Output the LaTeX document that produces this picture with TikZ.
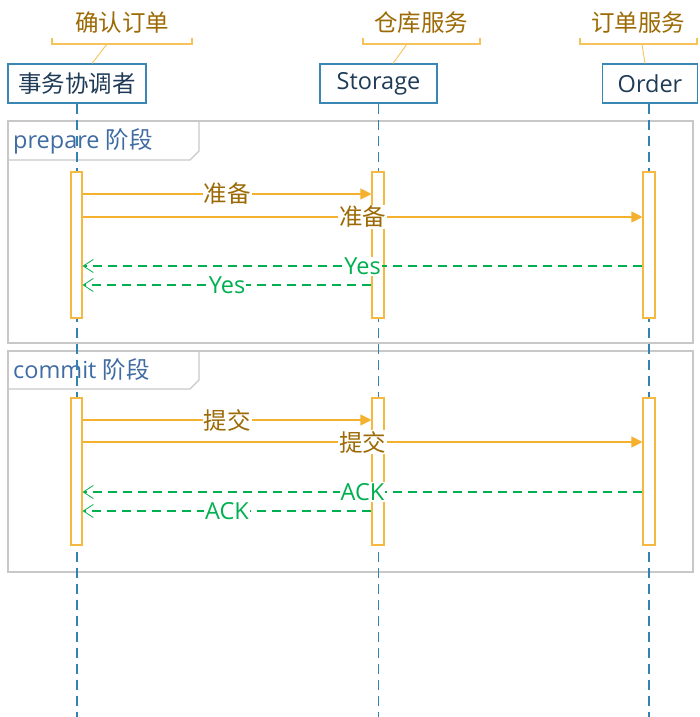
\documentclass[tikz,border=0pt]{standalone}
\usepackage{fontspec}
\setmainfont{Open Sans}
\newfontfamily\cjk{Noto Sans CJK SC}
\usetikzlibrary{arrows.meta}
\definecolor{headblue}{HTML}{3A87B5}
\definecolor{headtext}{HTML}{1F3B57}
\definecolor{lifeblue}{HTML}{3282B4}
\definecolor{actorange}{HTML}{F5B840}
\definecolor{msgorange}{HTML}{F5B02E}
\definecolor{labbrown}{HTML}{9C6A05}
\definecolor{retgreen}{HTML}{00B050}
\definecolor{fraggray}{HTML}{C8C8C8}
\definecolor{fragtext}{HTML}{3F6CA3}
\definecolor{brackc}{HTML}{F5C35A}
\newcommand\bigfs{\fontsize{23.5}{28}\selectfont}
\begin{document}
\begin{tikzpicture}[x=1pt,y=-1pt,
  head/.style={draw=headblue, line width=1.1pt, fill=white, minimum height=39pt,
    inner sep=0pt, text=headtext, font=\bigfs},
  title/.style={text=labbrown, font=\bigfs\cjk, inner sep=0pt},
  bracket/.style={draw=brackc, line width=1.3pt},
  leader/.style={draw=brackc, line width=0.9pt},
  life/.style={draw=lifeblue, line width=1.1pt, dash pattern=on 10pt off 6pt},
  act/.style={draw=actorange, line width=1.1pt, fill=white, inner sep=0pt,
    minimum width=11pt},
  msg/.style={draw=msgorange, line width=1.1pt, -{Triangle[length=11pt,width=11pt]}},
  ret/.style={draw=retgreen, line width=1.1pt, dash pattern=on 9pt off 6pt,
    -{Straight Barb[length=10pt,width=13pt,line width=0.8pt]}},
  lab/.style={fill=white, inner sep=1pt, font=\bigfs\cjk, text=labbrown},
  rlab/.style={fill=white, inner sep=1pt, font=\bigfs, text=retgreen},
  frag/.style={draw=fraggray, line width=1.2pt},
  fraglab/.style={anchor=west, inner sep=0pt, text=fragtext, font=\bigfs}
]
\useasboundingbox (0,0) rectangle (699,717);

% fragments
\draw[frag] (8,121) rectangle (693,343);
\draw[frag] (8,160) -- (190,160) -- (199,151) -- (199,121);
\node[fraglab] (f1) at (13,141) {prepare {\cjk 阶段}};
\draw[frag] (8,351) rectangle (693,572);
\draw[frag] (8,389) -- (190,389) -- (199,380) -- (199,351);
\node[fraglab] (f2) at (13,370) {commit {\cjk 阶段}};

% heads
\node[head, minimum width=138pt] (hA) at (77,83.5) {\cjk 事务协调者};
\node[head, minimum width=117pt] (hB) at (378.5,83.5) {Storage};
\node[head, minimum width=95pt] (hC) at (650,83.5) {Order};

% titles with brackets
\node[title] (tA) at (122,23) {确认订单};
\node[title] (tB) at (421,23) {仓库服务};
\node[title] (tC) at (638,23) {订单服务};
\draw[bracket] (52,38) -- (52,44) -- (192,44) -- (192,38);
\draw[bracket] (363,38) -- (363,44) -- (480,44) -- (480,38);
\draw[bracket] (580,38) -- (580,44) -- (697,44) -- (697,38);
\coordinate (bA) at (107,44);
\coordinate (bB) at (407,44);
\coordinate (bC) at (642,44);
\draw[leader] (bA) -- (hA.north -| 92,0);
\draw[leader] (bB) -- (hB.north -| 393,0);
\draw[leader] (bC) -- (hC.north -| 645,0);

% lifelines
\coordinate (eA) at (77,717);
\coordinate (eB) at (378.5,717);
\coordinate (eC) at (649,717);
\draw[life] (hA.south -| eA) -- (eA);
\draw[life] (hB.south -| eB) -- (eB);
\draw[life] (hC.south -| eC) -- (eC);

% activations
\node[act, minimum height=146pt] (a1) at (76.5,245) {};
\node[act, minimum height=146pt, minimum width=12pt] (a2) at (378,245) {};
\node[act, minimum height=146pt, minimum width=12pt] (a3) at (649,245) {};
\node[act, minimum height=147pt] (c1) at (76.5,471.5) {};
\node[act, minimum height=147pt, minimum width=12pt] (c2) at (378,471.5) {};
\node[act, minimum height=147pt, minimum width=12pt] (c3) at (649,471.5) {};

% prepare messages
\coordinate (m1) at (0,194);
\coordinate (m2) at (0,217);
\coordinate (m3) at (0,266);
\coordinate (m4) at (0,285);
\draw[msg] (a1.east |- m1) -- node[lab] {准备} (a2.west |- m1);
\draw[msg] (a1.east |- m2) -- node[lab] {准备} (a3.west |- m2);
\draw[ret] (a3.west |- m3) -- node[rlab] {Yes} (a1.east |- m3);
\draw[ret] (a2.west |- m4) -- node[rlab] {Yes} (a1.east |- m4);

% commit messages
\coordinate (n1) at (0,420);
\coordinate (n2) at (0,442);
\coordinate (n3) at (0,492);
\coordinate (n4) at (0,511);
\draw[msg] (c1.east |- n1) -- node[lab] {提交} (c2.west |- n1);
\draw[msg] (c1.east |- n2) -- node[lab] {提交} (c3.west |- n2);
\draw[ret] (c3.west |- n3) -- node[rlab] {ACK} (c1.east |- n3);
\draw[ret] (c2.west |- n4) -- node[rlab] {ACK} (c1.east |- n4);
\end{tikzpicture}
\end{document}
